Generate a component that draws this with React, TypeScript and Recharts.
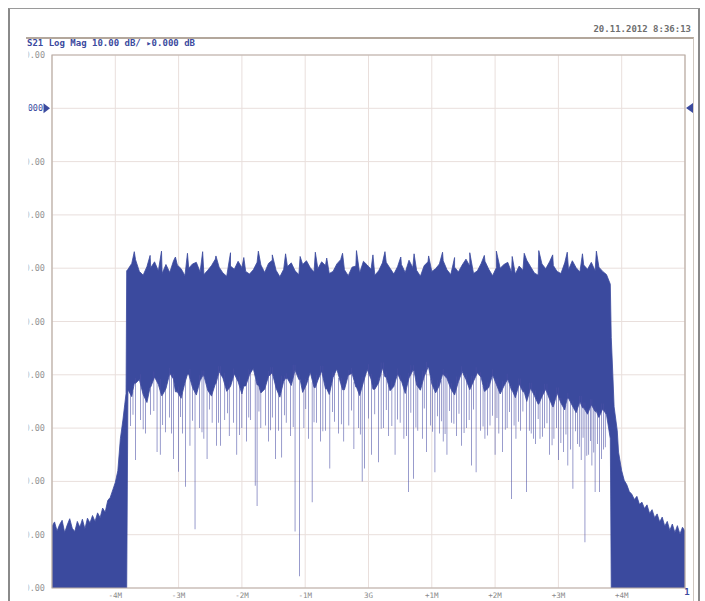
import React from 'react';
import { ComposedChart, Area, Bar, XAxis, YAxis, CartesianGrid, ReferenceArea } from 'recharts';

// sweep: offset from 3 GHz centre in MHz, level in dB
const freqTicks = [-5, -4, -3, -2, -1, 0, 1, 2, 3, 4, 5];
const freqLabels = ['', '-4M', '-3M', '-2M', '-1M', '3G', '+1M', '+2M', '+3M', '+4M', '1'];
const levelTicks = [-90, -80, -70, -60, -50, -40, -30, -20, -10, 0, 10];

// left skirt (out of band, fills down to the floor)
const leftSkirtFreq = [-5.0, -4.96, -4.92, -4.88, -4.84, -4.8, -4.76, -4.72, -4.68, -4.64, -4.6, -4.56, -4.52, -4.48, -4.44, -4.4, -4.36, -4.32, -4.28, -4.24, -4.2, -4.16, -4.12, -4.08, -4.04, -4.0, -3.96, -3.92, -3.88, -3.85, -3.83];
const leftSkirtTop = [-78.4, -77.6, -79.3, -78.1, -77.3, -79.6, -78.2, -77.0, -78.8, -79.4, -77.5, -78.6, -77.1, -78.9, -76.9, -77.8, -76.4, -77.5, -75.9, -76.8, -75.0, -75.8, -73.6, -73.0, -71.6, -70.2, -68.0, -62.0, -58.5, -55.5, -53.5];

// in-band trace, sampled on the analyser sweep grid
const bandStart = -3.8;
const bandStep = 0.06;
const bandTop = [
  -30.2, -29.1, -28.4, -30.6, -31.3, -29.7, -29.9, -28.8, -30.5, -31.0,
  -29.3, -30.8, -28.6, -29.4, -30.1, -31.4, -30.0, -29.2, -28.9, -30.7,
  -31.2, -30.4, -29.5, -28.3, -29.8, -30.9, -31.5, -29.6, -30.2, -28.7,
  -29.9, -30.6, -31.1, -30.3, -28.9, -29.4, -30.8, -29.1, -28.5, -30.4,
  -31.6, -30.2, -29.7, -29.0, -30.5, -31.2, -29.3, -28.6, -29.9, -30.7,
  -30.1, -28.8, -29.5, -31.0, -30.6, -29.2, -28.4, -30.3, -31.4, -29.8,
  -29.6, -30.9, -28.7, -29.4, -30.2, -31.3, -30.5, -29.0, -28.9, -30.0,
  -31.1, -29.7, -29.3, -30.8, -28.5, -29.9, -30.4, -31.5, -29.5, -28.8,
  -30.6, -30.1, -29.2, -28.6, -30.3, -31.2, -29.8, -30.7, -29.4, -28.3,
  -29.6, -31.0, -30.5, -29.1, -28.7, -30.2, -31.4, -29.9, -30.0, -29.3,
  -28.9, -30.8, -31.1, -29.6, -30.4, -28.5, -29.7, -30.9, -31.3, -29.2,
  -30.1, -28.8, -29.5, -30.6, -31.0, -29.0, -30.3, -28.6, -29.9, -30.7,
  -29.4, -30.2, -28.9, -30.5, -29.8, -30.6, -31.2,
];
const bandBottom = [
  -52.8, -54.1, -51.6, -50.9, -53.7, -55.2, -52.3, -50.4, -51.8, -53.9,
  -52.6, -49.7, -50.8, -53.2, -54.4, -51.5, -49.9, -52.4, -53.8, -51.1,
  -50.2, -52.9, -54.0, -51.7, -49.4, -50.6, -53.1, -52.2, -49.8, -51.3,
  -53.6, -52.1, -50.0, -48.8, -51.9, -53.4, -52.7, -50.3, -49.6, -52.5,
  -54.2, -51.2, -50.7, -52.0, -49.1, -50.9, -53.3, -51.8, -49.5, -52.4,
  -51.0, -49.3, -52.6, -53.7, -50.5, -48.9, -51.6, -52.8, -50.1, -49.7,
  -52.3, -53.9, -51.4, -49.0, -50.8, -52.7, -51.5, -48.7, -50.4, -53.0,
  -52.2, -49.8, -51.1, -53.5, -50.6, -49.2, -51.9, -52.9, -50.3, -48.6,
  -51.7, -53.4, -52.0, -49.9, -50.7, -52.6, -53.8, -51.3, -49.4, -50.9,
  -52.8, -51.2, -49.6, -50.5, -53.1, -52.4, -50.0, -51.8, -53.6, -52.1,
  -50.8, -52.9, -54.3, -51.7, -53.2, -55.0, -52.5, -53.9, -55.5, -54.1,
  -52.7, -54.6, -56.0, -53.4, -55.3, -56.6, -54.4, -55.8, -57.1, -55.0,
  -56.2, -57.4, -55.6, -56.9, -58.0, -56.4, -57.5,
];

// right skirt
const rightSkirtFreq = [3.82, 3.835, 3.86, 3.88, 3.93, 3.95, 4.0, 4.04, 4.08, 4.12, 4.16, 4.2, 4.24, 4.28, 4.32, 4.36, 4.4, 4.44, 4.48, 4.52, 4.56, 4.6, 4.64, 4.68, 4.72, 4.76, 4.8, 4.84, 4.88, 4.92, 4.96, 5.0];
const rightSkirtTop = [-33.0, -43.0, -50.0, -56.0, -60.5, -64.5, -68.0, -69.8, -70.6, -71.9, -72.4, -73.4, -72.8, -74.3, -73.9, -75.1, -74.4, -76.0, -75.3, -76.8, -76.1, -77.6, -76.7, -78.4, -77.5, -79.2, -78.0, -79.6, -78.3, -79.9, -78.6, -79.3];
const rightSkirtFloor = [-62.0, -90, -90, -90, -90, -90, -90, -90, -90, -90, -90, -90, -90, -90, -90, -90, -90, -90, -90, -90, -90, -90, -90, -90, -90, -90, -90, -90, -90, -90, -90, -90];

// upward peaks on the top edge of the band
const peakFreq = [-3.7, -3.45, -3.27, -3.05, -2.86, -2.62, -2.41, -2.18, -1.97, -1.74, -1.52, -1.31, -1.08, -0.84, -0.66, -0.41, -0.19, 0.07, 0.26, 0.51, 0.72, 0.95, 1.17, 1.36, 1.6, 1.83, 2.02, 2.27, 2.46, 2.69, 2.91, 3.14, 3.38, 3.6];
const peakLevel = [-26.9, -27.6, -26.8, -27.9, -27.2, -26.9, -27.7, -27.1, -28.0, -26.8, -27.5, -27.3, -27.8, -27.0, -28.1, -27.2, -26.7, -27.5, -26.9, -27.9, -27.3, -27.7, -27.0, -28.0, -27.1, -27.6, -26.8, -27.8, -27.2, -26.7, -27.5, -27.0, -27.3, -26.8];

// downward noise spikes below the dense band
const spikeFreq = [
  -3.76, -3.68, -3.6, -3.52, -3.44, -3.34, -3.29, -3.21, -3.14, -3.08, -3.0, -2.94, -2.89, -2.82, -2.74, -2.67, -2.6, -2.55, -2.47,
  -2.4, -2.34, -2.27, -2.2, -2.13, -2.08, -2.0, -1.93, -1.86, -1.79, -1.76, -1.7, -1.63, -1.58, -1.52, -1.47, -1.42, -1.37, -1.3,
  -1.23, -1.16, -1.09, -1.02, -0.95, -0.89, -0.82, -0.76, -0.68, -0.61, -0.54, -0.47, -0.39, -0.31, -0.23, -0.16, -0.1, -0.06,
  0.05, 0.16, 0.24, 0.32, 0.42, 0.5, 0.56, 0.63, 0.71, 0.78, 0.85, 0.92, 0.98, 1.05, 1.12, 1.18, 1.24, 1.31, 1.39, 1.47, 1.55,
  1.63, 1.7, 1.77, 1.84, 1.92, 2.0, 2.06, 2.12, 2.19, 2.26, 2.33, 2.4, 2.5, 2.57, 2.64, 2.71, 2.78, 2.86, 2.93, 3.0, 3.08, 3.15,
  3.23, 3.3, 3.36, 3.42, 3.48, 3.53, 3.58, 3.65, 3.71,
];
const spikeDepth = [
  -59.6, -66.0, -58.5, -61.0, -57.5, -64.5, -65.0, -60.8, -58.0, -65.8, -68.2, -61.0, -71.0, -63.3, -79.0, -60.0, -62.0, -65.8, -59.0,
  -63.3, -63.3, -58.5, -61.5, -59.0, -65.0, -60.0, -62.5, -58.5, -70.8, -74.6, -60.0, -59.5, -62.5, -58.0, -65.8, -60.5, -65.5, -59.0,
  -61.5, -79.4, -87.8, -60.0, -62.0, -73.9, -59.0, -62.5, -60.5, -67.6, -58.8, -61.0, -62.5, -59.5, -63.9, -60.0, -70.0, -67.6,
  -65.0, -66.4, -60.0, -61.5, -65.0, -59.0, -62.0, -72.0, -69.5, -60.5, -62.0, -64.5, -59.5, -68.3, -61.0, -62.5, -65.0, -59.0, -61.5, -63.3, -60.0,
  -67.0, -68.3, -60.5, -62.0, -59.5, -65.0, -61.0, -64.5, -60.0, -73.3, -62.0, -60.5, -72.0, -61.0, -63.0, -62.0, -60.0, -65.0, -62.0, -66.0, -64.5, -67.0,
  -71.4, -63.0, -66.0, -81.4, -65.0, -67.0, -72.0, -72.0, -64.0,
];
const shallowFreq = [
  -3.72, -3.56, -3.39, -3.25, -3.11, -2.97, -2.78, -2.63, -2.51, -2.37,
  -2.23, -2.04, -1.89, -1.73, -1.55, -1.33, -1.19, -0.99, -0.86, -0.72,
  -0.57, -0.43, -0.27, -0.13, 0.0, 0.1, 0.2, 0.28, 0.37, 0.46,
  0.6, 0.67, 0.75, 0.88, 1.01, 1.09, 1.15, 1.21, 1.28, 1.35,
  1.43, 1.51, 1.59, 1.66, 1.81, 1.88, 1.96, 2.03, 2.16, 2.23,
  2.3, 2.37, 2.44, 2.54, 2.61, 2.68, 2.75, 2.82, 2.9, 2.97,
  3.04, 3.12, 3.19, 3.27, 3.33, 3.39, 3.45, 3.51, 3.56, 3.62,
  3.68, 3.74,
];
const shallowDepth = [
  -57.5, -60.2, -56.8, -59.4, -61.0, -57.9, -58.6, -60.8, -56.5, -59.0,
  -57.2, -61.3, -58.0, -56.9, -60.4, -57.6, -59.8, -56.4, -58.9, -60.6,
  -57.0, -59.3, -56.7, -61.2, -58.2, -57.4, -60.1, -56.6, -59.6, -58.4,
  -61.5, -57.1, -59.9, -56.3, -60.7, -57.8, -58.7, -61.1, -56.8, -59.2,
  -57.3, -60.9, -58.5, -56.5, -59.7, -61.4, -57.7, -58.1, -60.3, -57.0,
  -59.5, -58.8, -56.9, -60.5, -62.0, -58.3, -61.6, -59.1, -63.2, -60.0,
  -62.8, -61.2, -64.0, -60.6, -63.5, -61.8, -65.2, -62.4, -64.6, -63.0,
  -65.8, -63.6,
];

// nearest band sample, used to anchor peaks and spikes inside the dense band
const bandIndexAt = (f: number) =>
  Math.min(bandBottom.length - 1, Math.max(0, Math.round((f - bandStart) / bandStep)));

const bandRows = [
  ...bandTop.map((hi, i) => ({ f: bandStart + i * bandStep, v: [bandBottom[i], hi] })),
  ...peakFreq.map((f, i) => ({ f, v: [bandBottom[bandIndexAt(f)], peakLevel[i]] })),
].sort((a, b) => a.f - b.f);

const traceRows = [
  ...leftSkirtFreq.map((f, i) => ({ f, v: [-90, leftSkirtTop[i]] })),
  { f: -3.82, v: [-90, -30.5] },
  ...bandRows,
  ...rightSkirtFreq.map((f, i) => ({ f, v: [rightSkirtFloor[i], rightSkirtTop[i]] })),
];

const spikeRows = [
  ...spikeFreq.map((f, i) => ({ f, s: [spikeDepth[i], bandBottom[bandIndexAt(f)] + 1] })),
  ...shallowFreq.map((f, i) => ({ f, s: [shallowDepth[i], bandBottom[bandIndexAt(f)] + 1] })),
].sort((a, b) => a.f - b.f);

const BLUE = '#3b4a9e';
const mono = '"DejaVu Sans Mono", monospace';

const YTick = (props: any) => {
  const { y, payload } = props;
  const v = payload.value as number;
  if (v === 0) {
    return (
      <g>
        <text x={43} y={y} dy={3} textAnchor="end" fontSize={8.5} fontFamily={mono} fill={BLUE} clipPath="url(#ylabClip)">0.000</text>
        <path d={`M43.5 ${y - 5} L50 ${y} L43.5 ${y + 5} Z`} fill={BLUE} />
      </g>
    );
  }
  return (
    <text x={45} y={y} dy={3} textAnchor="end" fontSize={8.5} fontFamily={mono} fill="#959595" clipPath="url(#ylabClip)">
      {v.toFixed(2)}
    </text>
  );
};

const XTick = (props: any) => {
  const { x, y, payload, index } = props;
  const label = freqLabels[index] ?? '';
  if (payload.value === 5) {
    return <text x={x + 2} y={y - 1} textAnchor="middle" fontSize={9} fontFamily={mono} fontWeight="bold" fill={BLUE}>{label}</text>;
  }
  return <text x={x} y={y + 2} textAnchor="middle" fontSize={7.5} fontFamily={mono} fill="#8a8a8a">{label}</text>;
};

export default function App() {
  return (
    <div style={{ position: 'absolute', left: 0, top: 0, width: 705, height: 601, overflow: 'hidden', background: '#fff' }}>
      {/* instrument window frame */}
      <div style={{ position: 'absolute', left: 8, top: 8, width: 688, height: 620, borderLeft: '2px solid #8a8a8a', borderTop: '1px solid #9a9a9a', borderRight: '2px solid #8a8a8a' }} />
      <div style={{ position: 'absolute', left: 26, top: 37, width: 667, height: 600, borderTop: '2px solid #b3a79c', borderRight: '1px solid #cfc7c0' }} />
      <div style={{ position: 'absolute', right: 14, top: 24, fontFamily: mono, fontSize: 9, fontWeight: 'bold', color: '#6e6e6e' }}>20.11.2012 8:36:13</div>
      <div style={{ position: 'absolute', left: 27, top: 38, fontFamily: mono, fontSize: 9, fontWeight: 'bold', color: BLUE, whiteSpace: 'pre' }}>
        S21 Log Mag 10.00 dB/ ▸0.000 dB
      </div>
      <svg style={{ position: 'absolute', left: 0, top: 0 }} width={705} height={601}>
        <path d="M693 103 L686 108 L693 113 Z" fill={BLUE} />
      </svg>
      <div style={{ position: 'absolute', left: 0, top: 0 }}>
        <ComposedChart width={705} height={601} data={spikeRows} barGap={0} margin={{ top: 55, right: 20, bottom: 0, left: 0 }}>
          <defs>
            <clipPath id="ylabClip">
              <rect x={28.5} y={0} width={30} height={601} />
            </clipPath>
          </defs>
          <CartesianGrid stroke="#e9dfdc" strokeWidth={1} />
          <XAxis dataKey="f" type="number" domain={[-5, 5]} ticks={freqTicks} interval={0} axisLine={false} tickLine={false} height={13} tick={<XTick />} allowDataOverflow />
          <YAxis type="number" domain={[-90, 10]} ticks={levelTicks} interval={0} axisLine={false} tickLine={false} width={52} tick={<YTick />} allowDataOverflow />
          <Area data={traceRows} dataKey="v" type="linear" stroke={BLUE} strokeWidth={0.8} fill={BLUE} fillOpacity={1} isAnimationActive={false} dot={false} activeDot={false} />
          <Bar dataKey="s" fill="#4b50a6" barSize={1.8} isAnimationActive={false} />
          <ReferenceArea x1={-5} x2={5} y1={-90} y2={10} fill="none" stroke="#b9ada5" strokeWidth={1.2} ifOverflow="visible" />
        </ComposedChart>
      </div>
    </div>
  );
}
